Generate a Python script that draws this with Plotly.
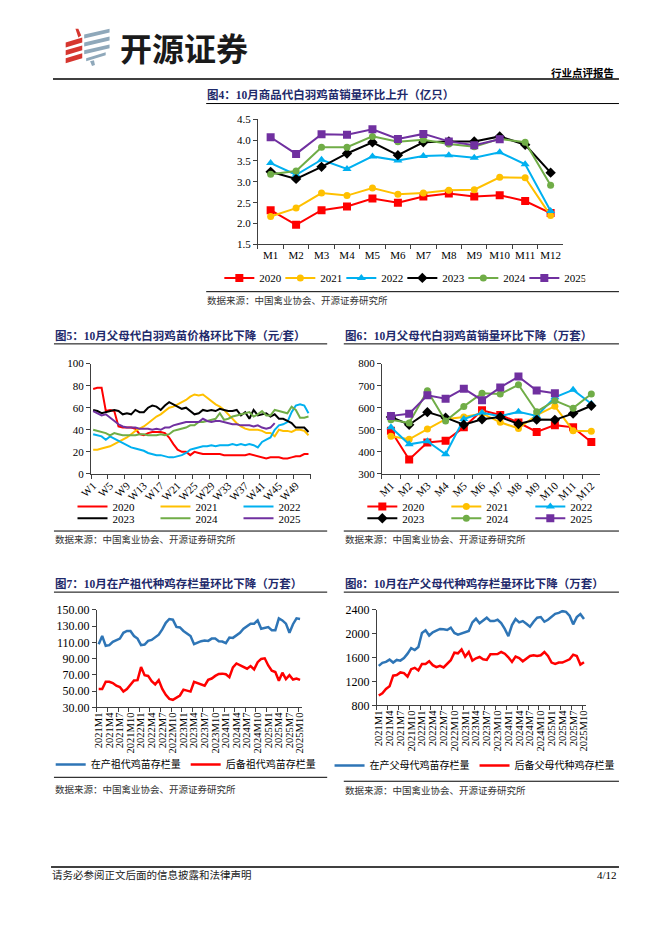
import plotly.graph_objects as go

W, H = 662, 936
SERIF = "Liberation Serif, Noto Sans CJK SC"
SANS = "Noto Sans CJK SC"
NAVY = "#1F2A6B"
AX = "#404040"

def fx(x):
    return x / W

def fy(y):
    return 1 - y / H

# ---------------- data ----------------
years = ["2020", "2021", "2022", "2023", "2024", "2025"]
months = ["M1", "M2", "M3", "M4", "M5", "M6", "M7", "M8", "M9", "M10", "M11", "M12"]
weeks = ["W%d" % i for i in range(1, 53)]
ym_labels = ["%dM%d" % (y, m) for y in range(2021, 2026) for m in range(1, 13)][:58]

# Fig4 商品代白羽鸡苗销量（亿只）
sales_2020 = [2.32, 1.97, 2.32, 2.41, 2.60, 2.50, 2.65, 2.72, 2.65, 2.68, 2.54, 2.25]
sales_2021 = [2.17, 2.37, 2.73, 2.67, 2.85, 2.70, 2.73, 2.80, 2.81, 3.11, 3.10, 2.19]
sales_2022 = [3.45, 3.17, 3.53, 3.31, 3.61, 3.51, 3.62, 3.64, 3.58, 3.71, 3.42, 2.30]
sales_2023 = [3.24, 3.07, 3.36, 3.68, 3.95, 3.64, 3.95, 3.97, 3.97, 4.09, 3.89, 3.22]
sales_2024 = [3.18, 3.26, 3.83, 3.83, 4.09, 3.96, 4.01, 3.91, 3.84, 4.03, 3.95, 2.92]
sales_2025 = [4.07, 3.67, 4.14, 4.13, 4.26, 4.03, 4.15, 3.97, 3.88, 4.02]

# Fig5 父母代白羽鸡苗价格（元/套）
price_2020 = [77, 78, 78, 57, 58, 57, 43, 42, 42, 42, 41, 36, 35, 37, 38, 38, 38, 37, 33, 27,
              22, 20, 20, 17, 20, 19, 18, 18, 18, 18, 18, 17, 17, 17, 17, 17, 17, 18, 17, 16,
              15, 14, 15, 15, 15, 14, 14, 15, 16, 16, 18, 18]
price_2021 = [22, 22, 23, 24, 25, 27, 29, 31, 33, 36, 39, 41, 43, 46, 49, 52, 54, 57, 60, 61,
              63, 65, 67, 70, 72, 71, 72, 69, 66, 63, 61, 58, 54, 50, 46, 43, 41, 40, 40, 40,
              39, 37, 37, 34, 40, 39, 39, 38, 40, 40, 39, 35]
price_2022 = [36, 35, 34, 31, 34, 32, 30, 28, 26, 24, 23, 22, 21, 19, 18, 17, 17, 16, 15, 15,
              16, 17, 19, 22, 23, 24, 25, 25, 26, 25, 26, 26, 26, 27, 26, 27, 26, 27, 26, 24,
              29, 31, 33, 40, 44, 45, 47, 56, 62, 63, 62, 55]
price_2023 = [58, 57, 55, 56, 57, 58, 57, 54, 55, 54, 58, 56, 56, 60, 62, 61, 58, 62, 65, 63,
              61, 59, 60, 57, 54, 55, 58, 57, 58, 57, 59, 58, 57, 57, 58, 53, 56, 50, 58, 53,
              54, 55, 52, 54, 50, 50, 48, 46, 42, 42, 42, 38]
price_2024 = [40, 39, 38, 37, 35, 37, 36, 35, 35, 35, 35, 36, 36, 35, 35, 35, 36, 35, 36, 39,
              40, 41, 42, 44, 44, 47, 47, 48, 49, 50, 55, 49, 50, 52, 53, 54, 55, 56, 52, 54,
              57, 53, 53, 58, 57, 56, 55, 61, 58, 51, 51, 52]
price_2025 = [57, 55, 53, 54, 51, 48, 45, 43, 42, 42, 42, 41, 41, 41, 40, 41, 40, 42, 42, 44,
              45, 46, 47, 47, 47, 47, 50, 48, 47, 48, 48, 47, 46, 45, 45, 44, 44, 44, 43, 44,
              42, 41, 42, 46]

# Fig6 父母代白羽鸡苗销量（万套）
ps_2020 = [496, 365, 442, 450, 511, 588, 567, 533, 490, 521, 511, 445]
ps_2021 = [471, 457, 503, 548, 558, 574, 534, 506, 567, 607, 496, 493]
ps_2022 = [511, 434, 448, 389, 549, 577, 561, 582, 563, 647, 681, 618]
ps_2023 = [558, 523, 580, 555, 523, 548, 558, 526, 546, 545, 574, 609]
ps_2024 = [545, 531, 677, 540, 606, 666, 662, 704, 582, 632, 598, 662]
ps_2025 = [563, 573, 656, 641, 686, 634, 692, 741, 678, 666]

# Fig7 祖代种鸡存栏量（万套）
gp_prod = [107.7, 117.8, 105.7, 106.5, 110.6, 113, 114.6, 121.8, 124, 124,
           117.8, 114.6, 106.5, 107.3, 111.8, 113, 116, 119.4, 125.9, 134,
           138.7, 137.9, 129, 128.3, 124, 121, 117.8, 107.7, 109.8, 111.4,
           112.2, 111.8, 114.6, 114.6, 111.4, 111, 109, 116, 115.5, 118.6,
           121.8, 126.7, 130, 133, 133, 137, 126.7, 127.5, 128.7, 125,
           125, 139.5, 137, 133, 121.8, 132.3, 139.5, 138.7]
gp_res = [52.6, 52.6, 61.5, 61.5, 59.9, 56.6, 55, 49.4, 52.6, 57.4,
          63, 63.5, 79.6, 69.5, 68.7, 62.3, 58.3, 63.5, 52.6, 45.4,
          40.5, 39.3, 42.2, 44.6, 51.8, 50.2, 49.4, 61.5, 59.9, 57.4,
          56.6, 63.9, 65.5, 68.7, 71.1, 71.5, 70.7, 67.1, 79.2, 84,
          81.6, 79.2, 77.6, 80.8, 76.8, 85.6, 89.6, 90.4, 81.6, 75.2,
          73.5, 62.7, 72.7, 64.7, 69.5, 64.3, 65.5, 63.9]

# Fig8 父母代种鸡存栏量（万套）
pp_prod = [1462, 1512, 1528, 1567, 1517, 1561, 1550, 1594, 1666, 1760,
           1727, 1777, 2014, 2058, 1970, 2025, 2052, 2080, 2074, 2063,
           2102, 2014, 1986, 2003, 2025, 2047, 2190, 2251, 2174, 2218,
           2268, 2212, 2212, 2234, 2179, 2080, 1959, 2146, 2246, 2190,
           2212, 2168, 2119, 2201, 2268, 2279, 2201, 2234, 2279, 2334,
           2350, 2378, 2367, 2301, 2157, 2279, 2328, 2246]
pp_res = [966, 1004, 1076, 1120, 1297, 1308, 1352, 1341, 1280, 1407,
          1429, 1385, 1495, 1495, 1539, 1473, 1440, 1462, 1435, 1495,
          1556, 1683, 1672, 1738, 1617, 1694, 1550, 1589, 1611, 1572,
          1561, 1655, 1655, 1661, 1694, 1666, 1605, 1528, 1617, 1594,
          1539, 1583, 1627, 1639, 1627, 1639, 1694, 1627, 1517, 1495,
          1517, 1517, 1550, 1572, 1650, 1627, 1484, 1523]

# ---------------- styles ----------------
ycolors = ["#FF0000", "#FFC000", "#00B0F0", "#000000", "#70AD47", "#7030A0"]
ysymbols = ["square", "circle", "triangle-up", "diamond", "circle", "square"]
ysizes = [8, 7, 8, 8, 7, 8]
BLUE = "#2E75B6"
RED = "#FF0000"

fig = go.Figure()

sales = [sales_2020, sales_2021, sales_2022, sales_2023, sales_2024, sales_2025]
for i, yr in enumerate(years):
    v = sales[i]
    fig.add_trace(go.Scatter(x=months[:len(v)], y=v, name=yr, mode="lines+markers",
                             line=dict(color=ycolors[i], width=2),
                             marker=dict(symbol=ysymbols[i], size=ysizes[i], color=ycolors[i]),
                             xaxis="x", yaxis="y", legend="legend"))

prices = [price_2020, price_2021, price_2022, price_2023, price_2024, price_2025]
for i, yr in enumerate(years):
    v = prices[i]
    fig.add_trace(go.Scatter(x=weeks[:len(v)], y=v, name=yr, mode="lines",
                             line=dict(color=ycolors[i], width=2),
                             xaxis="x2", yaxis="y2",
                             legend="legend2" if i < 3 else "legend3"))

psales = [ps_2020, ps_2021, ps_2022, ps_2023, ps_2024, ps_2025]
for i, yr in enumerate(years):
    v = psales[i]
    fig.add_trace(go.Scatter(x=months[:len(v)], y=v, name=yr, mode="lines+markers",
                             line=dict(color=ycolors[i], width=2),
                             marker=dict(symbol=ysymbols[i], size=ysizes[i], color=ycolors[i]),
                             xaxis="x3", yaxis="y3",
                             legend="legend4" if i < 3 else "legend5"))

fig.add_trace(go.Scatter(x=ym_labels, y=gp_prod, name="在产祖代鸡苗存栏量", mode="lines",
                         line=dict(color=BLUE, width=2.5), xaxis="x4", yaxis="y4", legend="legend6"))
fig.add_trace(go.Scatter(x=ym_labels, y=gp_res, name="后备祖代鸡苗存栏量", mode="lines",
                         line=dict(color=RED, width=2.5), xaxis="x4", yaxis="y4", legend="legend6"))
fig.add_trace(go.Scatter(x=ym_labels, y=pp_prod, name="在产父母代鸡苗存栏量", mode="lines",
                         line=dict(color=BLUE, width=2.5), xaxis="x5", yaxis="y5", legend="legend7"))
fig.add_trace(go.Scatter(x=ym_labels, y=pp_res, name="后备父母代种鸡存栏量", mode="lines",
                         line=dict(color=RED, width=2.5), xaxis="x5", yaxis="y5", legend="legend7"))

# ---------------- axes ----------------
def xcat(x0, x1, anchor, cats, dtick=1, angle=0, size=11):
    return dict(domain=[fx(x0), fx(x1)], anchor=anchor, type="category",
                categoryorder="array", categoryarray=cats,
                range=[-0.5, len(cats) - 0.5], tickmode="linear", tick0=0, dtick=dtick,
                tickson="boundaries", ticks="outside", ticklen=4, tickcolor=AX,
                showline=True, linecolor=AX, linewidth=1, showgrid=False, zeroline=False,
                tickangle=angle, tickfont=dict(family=SERIF, size=size, color="black"),
                fixedrange=True)

def ylin(ytop, ybot, anchor, rng, dtick, fmt, size=11):
    return dict(domain=[fy(ybot), fy(ytop)], anchor=anchor, range=rng, dtick=dtick,
                tick0=rng[0], tickformat=fmt, ticks="outside", ticklen=4, tickcolor=AX,
                showline=True, linecolor=AX, linewidth=1, showgrid=False, zeroline=False,
                tickfont=dict(family=SERIF, size=size, color="black"), fixedrange=True)

layout_axes = dict(
    xaxis=xcat(252, 565, "y", months),
    yaxis=ylin(114, 241, "x", [1.5, 4.5], 0.5, ".1f"),
    xaxis2=xcat(81, 306, "y2", weeks, dtick=4, angle=-45),
    yaxis2=ylin(362, 474, "x2", [0, 100], 20, "d"),
    xaxis3=xcat(379, 603, "y3", months, angle=-45),
    yaxis3=ylin(362, 474, "x3", [300, 800], 100, "d"),
    xaxis4=xcat(87, 297, "y4", ym_labels, dtick=3, angle=-90, size=10.5),
    yaxis4=ylin(612, 711, "x4", [30, 150], 20, ".2f", size=12),
    xaxis5=xcat(374, 588, "y5", ym_labels, dtick=3, angle=-90, size=10.5),
    yaxis5=ylin(612, 709, "x5", [800, 2400], 400, "d", size=12),
)

# ---------------- legends ----------------
def leg(xp, yp, anchor="left", ew=None, size=11):
    d = dict(x=fx(xp), y=fy(yp), xanchor=anchor, yanchor="middle", orientation="h",
             bgcolor="rgba(0,0,0,0)", borderwidth=0,
             font=dict(family=SERIF, size=size, color="black"),
             itemclick=False, itemdoubleclick=False)
    if ew:
        d.update(entrywidth=ew, entrywidthmode="pixels")
    return d

legends = dict(
    legend=leg(400, 275, "center", ew=16),
    legend2=leg(62, 507, "left", ew=38),
    legend3=leg(62, 519, "left", ew=38),
    legend4=leg(359, 507, "left", ew=39),
    legend5=leg(359, 519, "left", ew=39),
    legend6=leg(178, 769, "center", size=10),
    legend7=leg(474, 770, "center", size=10),
)

# ---------------- page text ----------------
ann = []

def text(x, y, s, size=10, color="black", anchor="left", bold=False, family=SERIF):
    ann.append(dict(x=fx(x), y=fy(y), xref="paper", yref="paper", text=("<b>%s</b>" % s) if bold else s,
                    showarrow=False, xanchor=anchor, yanchor="middle", borderpad=0,
                    font=dict(family=family, size=size, color=color)))

text(176.5, 41, "开源证券", size=32, color="#1A1A1A", anchor="center", bold=True, family=SANS)
text(618, 67, "行业点评报告", size=10.5, anchor="right", bold=True)

titles = [
    (199, 89, "图4：10月商品代白羽鸡苗销量环比上升（亿只）"),
    (43, 333, "图5：10月父母代白羽鸡苗价格环比下降（元/套）"),
    (340, 333, "图6：10月父母代白羽鸡苗销量环比下降（万套）"),
    (43, 585, "图7：10月在产祖代种鸡存栏量环比下降（万套）"),
    (340, 585, "图8：10月在产父母代种鸡存栏量环比下降（万套）"),
]
for x, y, s in titles:
    text(x, y, s, size=11.5, color=NAVY, bold=True)

SRC = "数据来源：中国禽业协会、开源证券研究所"
for x, y in [(199, 298), (43, 541), (340, 541), (43, 794), (340, 795)]:
    text(x, y, SRC, size=9.5, color="#333333")

text(40, 881, "请务必参阅正文后面的信息披露和法律声明", size=10.5, color="#222222")
text(621, 881, "4/12", size=11, anchor="right")

# ---------------- page rules & logo ----------------
shapes = []

def hline(x0, x1, y, w=1.0):
    shapes.append(dict(type="line", xref="paper", yref="paper", x0=fx(x0), x1=fx(x1),
                       y0=fy(y), y1=fy(y), line=dict(color="black", width=w)))

hline(42, 622, 73, 1.5)
hline(199, 622, 98)
hline(199, 622, 289)
hline(43, 323, 342)
hline(43, 323, 532)
hline(340, 622, 342)
hline(340, 622, 532)
hline(43, 323, 594)
hline(43, 323, 782)
hline(340, 622, 594)
hline(340, 622, 786)
hline(40, 622, 873, 1.5)

def poly(pts, color):
    p = "M " + " L ".join("%.5f,%.5f" % (fx(a), fy(b)) for a, b in pts) + " Z"
    shapes.append(dict(type="path", xref="paper", yref="paper", path=p,
                       fillcolor=color, line=dict(width=0)))

LRED = "#D6362F"
LGREY = "#8FA8BA"
poly([(65, 22), (68, 22), (71, 29), (68, 31)], LRED)
for dy in (0, 8, 16):
    poly([(55, 36 + dy), (72, 31 + dy), (72, 36 + dy), (55, 41 + dy)], LRED)
for dy in (0, 8, 16):
    poly([(74, 28 + dy), (100, 22 + dy), (100, 26 + dy), (74, 32 + dy)], LGREY)
poly([(76, 52), (96, 46), (96, 49), (76, 55)], LGREY)
poly([(80, 55), (84, 54), (85, 59), (82, 60)], LGREY)

fig.update_layout(width=W, height=H, margin=dict(l=0, r=0, t=0, b=0),
                  paper_bgcolor="white", plot_bgcolor="white", showlegend=True,
                  annotations=ann, shapes=shapes, **layout_axes, **legends)

fig.write_html("out.html", config={"displayModeBar": False},
               post_script="document.body.style.margin='0';")
